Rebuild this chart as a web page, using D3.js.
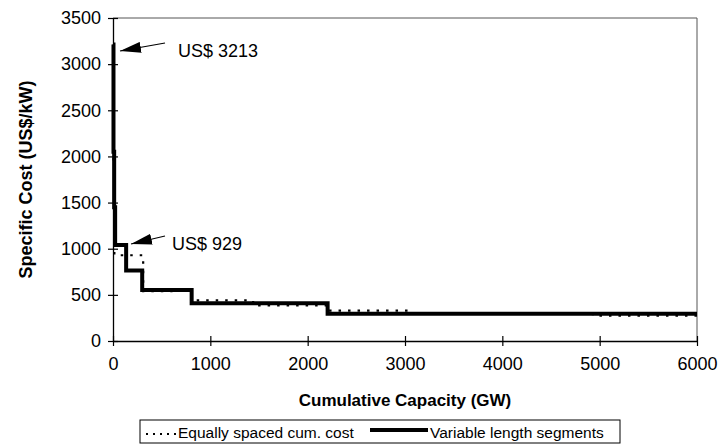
<!DOCTYPE html>
<html>
<head>
<meta charset="utf-8">
<script src="https://cdn.jsdelivr.net/npm/d3@7"></script>
<style>
  html, body { margin: 0; padding: 0; background: #fff; }
  svg { display: block; font-family: "Liberation Sans", Arial, Helvetica, sans-serif; }
</style>
</head>
<body>
<svg id="chart" width="720" height="448"></svg>
<script>
// Step breakpoints: each entry starts a level that runs to the next breakpoint
const variableCapacity = [0, 5, 12, 22, 135, 300, 808, 2205, 6000];
const variableCost     = [3213, 2050, 1450, 1040, 765, 553, 410, 295, 295];

const equalCapacity = [0, 5, 14, 310, 600, 808, 1440, 2205, 3060, 4930, 6000];
const equalCost     = [3213, 1900, 929, 540, 553, 440, 385, 330, 300, 275, 275];

const xTicks = [0, 1000, 2000, 3000, 4000, 5000, 6000];
const yTicks = [0, 500, 1000, 1500, 2000, 2500, 3000, 3500];

const seriesNames = ["Equally spaced cum. cost", "Variable length segments"];
const callouts = [
  { label: "US$ 3213", x: 0, y: 3213 },
  { label: "US$ 929", x: 120, y: 929 }
];

const svg = d3.select("#chart");
const plot = { left: 113, right: 697, top: 18, bottom: 341 };

const x = d3.scaleLinear().domain([0, 6000]).range([plot.left, plot.right]);
const y = d3.scaleLinear().domain([0, 3500]).range([plot.bottom, plot.top]);

// Plot frame (top and right edges)
svg.append("path")
  .attr("d", `M${plot.left},${plot.top}H${plot.right}V${plot.bottom}`)
  .attr("fill", "none").attr("stroke", "#555").attr("stroke-width", 1);

// Axes with ticks crossing the axis line
const yAxis = svg.append("g").attr("transform", `translate(${plot.left},0)`)
  .call(d3.axisLeft(y).tickValues(yTicks).tickFormat(d3.format("d")).tickSizeInner(5).tickSizeOuter(0).tickPadding(7));
yAxis.selectAll(".tick line").attr("x2", 5).attr("x1", -5);
const xAxis = svg.append("g").attr("transform", `translate(0,${plot.bottom})`)
  .call(d3.axisBottom(x).tickValues(xTicks).tickFormat(d3.format("d")).tickSizeInner(5).tickSizeOuter(0).tickPadding(11));
xAxis.selectAll(".tick line").attr("y1", -5).attr("y2", 5);
[xAxis, yAxis].forEach(a => {
  a.select(".domain").attr("stroke", "#000").attr("stroke-width", 1.3);
  a.selectAll(".tick line").attr("stroke", "#000").attr("stroke-width", 1.2);
  a.selectAll(".tick text").attr("fill", "#000").style("font-size", "18px")
    .style("font-family", "'Liberation Sans', Arial, sans-serif");
});

// Step lines
function stepPoints(xs, ys) {
  return xs.map((v, i) => [v, ys[i]]);
}
const line = d3.line().x(d => x(d[0])).y(d => y(d[1])).curve(d3.curveStepAfter);

svg.append("path")
  .datum(stepPoints(variableCapacity, variableCost))
  .attr("d", line)
  .attr("fill", "none").attr("stroke", "#000").attr("stroke-width", 4);

svg.append("path")
  .datum(stepPoints(equalCapacity, equalCost))
  .attr("d", line)
  .attr("fill", "none").attr("stroke", "#000").attr("stroke-width", 2.2)
  .attr("stroke-dasharray", "2.5,7");

// Callout arrows
const defs = svg.append("defs");
defs.append("marker").attr("id", "head")
  .attr("viewBox", "0 0 10 10").attr("refX", 10).attr("refY", 5)
  .attr("markerWidth", 21).attr("markerHeight", 11).attr("markerUnits", "userSpaceOnUse")
  .attr("preserveAspectRatio", "none")
  .attr("orient", "auto")
  .append("path").attr("d", "M0,0L10,5L0,10Z").attr("fill", "#000");

const calloutGeom = [
  { tail: [165, 43], tip: [120, 51], text: [178, 57] },
  { tail: [165, 236], tip: [131, 244], text: [172, 250] }
];
callouts.forEach((c, i) => {
  const g = calloutGeom[i];
  svg.append("line")
    .attr("x1", g.tail[0]).attr("y1", g.tail[1]).attr("x2", g.tip[0]).attr("y2", g.tip[1])
    .attr("stroke", "#000").attr("stroke-width", 1.2).attr("marker-end", "url(#head)");
  svg.append("text").attr("x", g.text[0]).attr("y", g.text[1])
    .style("font-size", "18px").text(c.label);
});

// Axis titles
svg.append("text")
  .attr("transform", `translate(32,${(plot.top + plot.bottom) / 2}) rotate(-90)`)
  .attr("text-anchor", "middle").style("font-weight", "bold").style("font-size", "18px")
  .text("Specific Cost (US$/kW)");
svg.append("text")
  .attr("x", (plot.left + plot.right) / 2).attr("y", 406)
  .attr("text-anchor", "middle").style("font-weight", "bold").style("font-size", "17px")
  .text("Cumulative Capacity (GW)");

// Legend
const legend = svg.append("g");
legend.append("rect").attr("x", 140).attr("y", 420).attr("width", 480).attr("height", 23)
  .attr("fill", "#fff").attr("stroke", "#000").attr("stroke-width", 1);
legend.append("line").attr("x1", 146).attr("x2", 176).attr("y1", 434).attr("y2", 434)
  .attr("stroke", "#000").attr("stroke-width", 2).attr("stroke-dasharray", "2,5");
legend.append("text").attr("x", 178).attr("y", 438).style("font-size", "15.5px").text(seriesNames[0]);
legend.append("line").attr("x1", 370).attr("x2", 428).attr("y1", 430).attr("y2", 430)
  .attr("stroke", "#000").attr("stroke-width", 4);
legend.append("text").attr("x", 430).attr("y", 438).style("font-size", "15.5px").text(seriesNames[1]);
</script>
</body>
</html>
